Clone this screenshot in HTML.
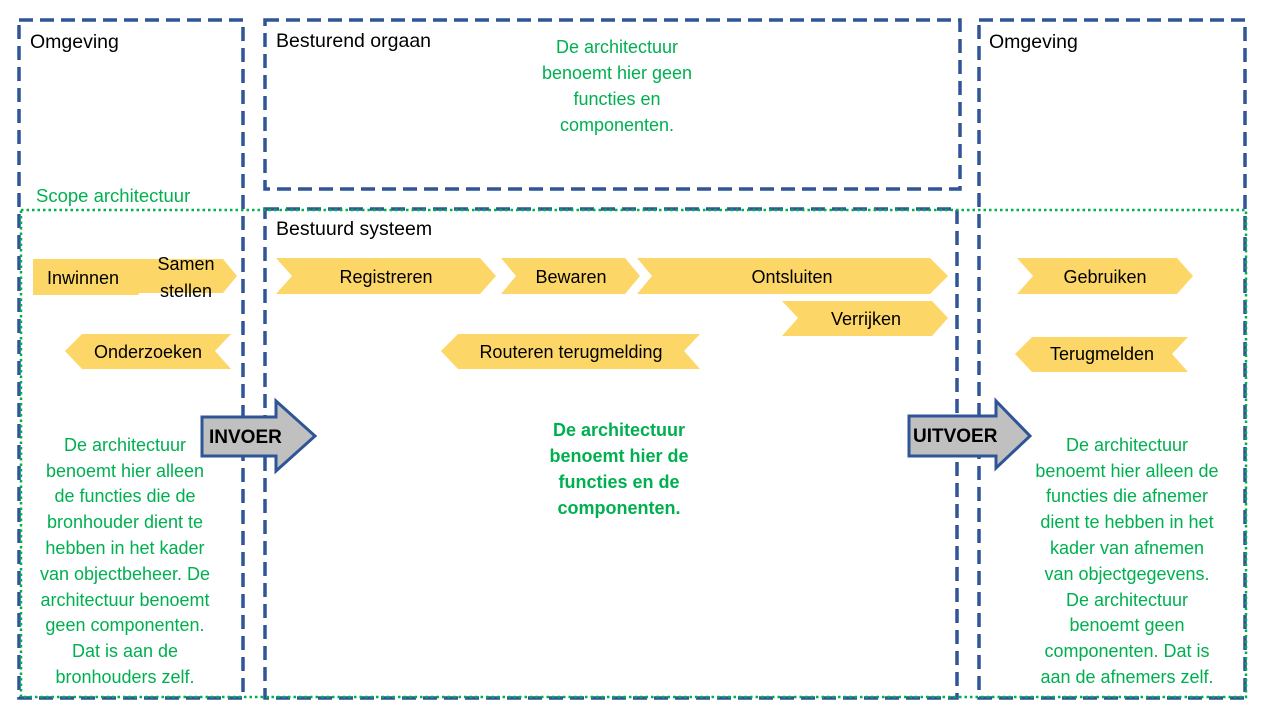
<!DOCTYPE html>
<html><head><meta charset="utf-8"><style>
body{margin:0;background:#fff}
svg text{font-family:"Liberation Sans",sans-serif}
</style></head><body>
<svg width="1280" height="720" viewBox="0 0 1280 720" xmlns="http://www.w3.org/2000/svg">
<g fill="none" stroke="#2F5597" stroke-width="3.5" stroke-dasharray="14,7">
<rect x="19" y="20" width="224" height="678"/>
<rect x="265" y="20" width="695" height="169"/>
<rect x="265" y="209" width="692" height="489"/>
<rect x="979" y="20" width="266" height="678"/>
</g>
<rect x="21" y="210" width="1225" height="487" fill="none" stroke="#00B050" stroke-width="2.5" stroke-dasharray="2.5,3"/>
<g fill="#FCD666">
<polygon points="33,259 138,259 151,277 138,295 33,295"/>
<polygon points="131,259 223,259 237,276 223,293 131,293 145,276"/>
<polygon points="276,258 480,258 496,276 480,294 276,294 292,276"/>
<polygon points="501,258 625,258 640,276 625,294 501,294 516,276"/>
<polygon points="637,258 930,258 948,276 930,294 637,294 652,276"/>
<polygon points="782,301 932,301 948,318 932,336 782,336 798,318"/>
<polygon points="82,334 231,334 215,351 231,369 82,369 65,351"/>
<polygon points="458,334 700,334 684,351 700,369 458,369 441,351"/>
<polygon points="1017,258 1177,258 1193,276 1177,294 1017,294 1033,276"/>
<polygon points="1032,337 1188,337 1172,354 1188,372 1032,372 1015,354"/>
</g>
<g fill="#C0C0C0" stroke="#2F5597" stroke-width="3">
<polygon points="202,417 276,417 276,401 315,436 276,471 276,456 202,456"/>
<polygon points="909,416 996,416 996,401 1030,436 996,468 996,456 909,456"/>
</g>
<g font-size="19.5" fill="#000">
<text x="30" y="48">Omgeving</text>
<text x="276" y="47">Besturend orgaan</text>
<text x="276" y="235">Bestuurd systeem</text>
<text x="989" y="48">Omgeving</text>
</g>
<g font-size="18" fill="#000" text-anchor="middle">
<text x="83" y="284">Inwinnen</text>
<text x="186" y="270">Samen</text>
<text x="186" y="297">stellen</text>
<text x="386" y="283">Registreren</text>
<text x="571" y="283">Bewaren</text>
<text x="792" y="283">Ontsluiten</text>
<text x="866" y="325">Verrijken</text>
<text x="148" y="358">Onderzoeken</text>
<text x="571" y="358">Routeren terugmelding</text>
<text x="1105" y="283">Gebruiken</text>
<text x="1102" y="360">Terugmelden</text>
</g>
<g font-size="19" font-weight="bold" fill="#000">
<text x="209" y="443">INVOER</text>
<text x="913" y="442">UITVOER</text>
</g>
<text x="36" y="202" font-size="18.5" fill="#00B050">Scope architectuur</text>
<g font-size="18" fill="#00B050" text-anchor="middle">
<text x="617" y="53">De architectuur</text>
<text x="617" y="79">benoemt hier geen</text>
<text x="617" y="105">functies  en</text>
<text x="617" y="131">componenten.</text>
<g font-weight="bold">
<text x="619" y="436">De architectuur</text>
<text x="619" y="462">benoemt hier de</text>
<text x="619" y="488">functies en de</text>
<text x="619" y="514">componenten.</text>
</g>
<text x="125" y="451">De architectuur</text>
<text x="125" y="477">benoemt hier alleen</text>
<text x="125" y="502">de functies die de</text>
<text x="125" y="528">bronhouder  dient te</text>
<text x="125" y="554">hebben  in het kader</text>
<text x="125" y="580">van objectbeheer.  De</text>
<text x="125" y="606">architectuur benoemt</text>
<text x="125" y="631">geen componenten.</text>
<text x="125" y="657">Dat is aan de</text>
<text x="125" y="683">bronhouders  zelf.</text>
<text x="1127" y="451">De architectuur</text>
<text x="1127" y="477">benoemt hier alleen de</text>
<text x="1127" y="502">functies die afnemer</text>
<text x="1127" y="528">dient te hebben  in het</text>
<text x="1127" y="554">kader van  afnemen</text>
<text x="1127" y="580">van objectgegevens.</text>
<text x="1127" y="606">De architectuur</text>
<text x="1127" y="631">benoemt geen</text>
<text x="1127" y="657">componenten.  Dat is</text>
<text x="1127" y="683">aan de afnemers zelf.</text>
</g>
</svg>
</body></html>
